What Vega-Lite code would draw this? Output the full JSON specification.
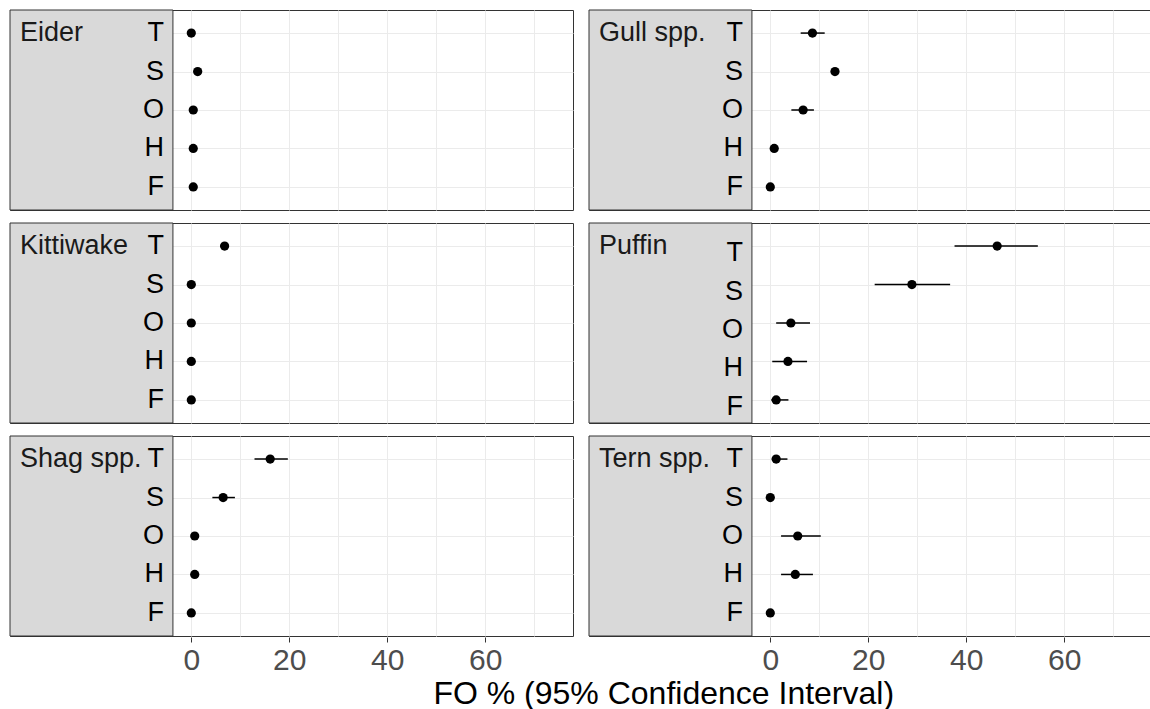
{
  "$schema": "https://vega.github.io/schema/vega-lite/v6.json",
  "background": "white",
  "padding": {"left": 9, "top": 9, "right": 0, "bottom": 0},
  "data": {
    "values": [
      {"species": "Eider", "cat": "T", "fo": 0.0, "lo": 0.0, "hi": 0.3},
      {"species": "Eider", "cat": "S", "fo": 1.3, "lo": 0.6, "hi": 2.1},
      {"species": "Eider", "cat": "O", "fo": 0.4, "lo": 0.0, "hi": 1.1},
      {"species": "Eider", "cat": "H", "fo": 0.4, "lo": 0.0, "hi": 1.1},
      {"species": "Eider", "cat": "F", "fo": 0.4, "lo": 0.0, "hi": 1.1},
      {"species": "Gull spp.", "cat": "T", "fo": 8.6, "lo": 6.2, "hi": 11.1},
      {"species": "Gull spp.", "cat": "S", "fo": 13.2, "lo": 12.4, "hi": 14.0},
      {"species": "Gull spp.", "cat": "O", "fo": 6.7, "lo": 4.3, "hi": 8.9},
      {"species": "Gull spp.", "cat": "H", "fo": 0.8, "lo": 0.1, "hi": 1.5},
      {"species": "Gull spp.", "cat": "F", "fo": 0.0, "lo": 0.0, "hi": 0.4},
      {"species": "Kittiwake", "cat": "T", "fo": 6.8, "lo": 5.9, "hi": 7.7},
      {"species": "Kittiwake", "cat": "S", "fo": 0.0, "lo": 0.0, "hi": 0.0},
      {"species": "Kittiwake", "cat": "O", "fo": 0.0, "lo": 0.0, "hi": 0.0},
      {"species": "Kittiwake", "cat": "H", "fo": 0.0, "lo": 0.0, "hi": 0.0},
      {"species": "Kittiwake", "cat": "F", "fo": 0.0, "lo": 0.0, "hi": 0.0},
      {"species": "Puffin", "cat": "T", "fo": 46.3, "lo": 37.6, "hi": 54.6},
      {"species": "Puffin", "cat": "S", "fo": 28.9, "lo": 21.3, "hi": 36.7},
      {"species": "Puffin", "cat": "O", "fo": 4.2, "lo": 1.2, "hi": 8.1},
      {"species": "Puffin", "cat": "H", "fo": 3.6, "lo": 0.4, "hi": 7.5},
      {"species": "Puffin", "cat": "F", "fo": 1.2, "lo": 0.2, "hi": 3.7},
      {"species": "Shag spp.", "cat": "T", "fo": 16.1, "lo": 12.9, "hi": 19.7},
      {"species": "Shag spp.", "cat": "S", "fo": 6.5, "lo": 4.3, "hi": 8.9},
      {"species": "Shag spp.", "cat": "O", "fo": 0.7, "lo": 0.1, "hi": 1.4},
      {"species": "Shag spp.", "cat": "H", "fo": 0.7, "lo": 0.1, "hi": 1.4},
      {"species": "Shag spp.", "cat": "F", "fo": 0.0, "lo": 0.0, "hi": 0.3},
      {"species": "Tern spp.", "cat": "T", "fo": 1.2, "lo": 0.3, "hi": 3.5},
      {"species": "Tern spp.", "cat": "S", "fo": 0.0, "lo": 0.0, "hi": 0.0},
      {"species": "Tern spp.", "cat": "O", "fo": 5.6, "lo": 2.2, "hi": 10.3},
      {"species": "Tern spp.", "cat": "H", "fo": 5.1, "lo": 2.2, "hi": 8.7},
      {"species": "Tern spp.", "cat": "F", "fo": 0.0, "lo": 0.0, "hi": 0.0}
    ]
  },
  "title": {
    "text": "FO % (95% Confidence Interval)",
    "orient": "bottom",
    "anchor": "middle",
    "fontSize": 32,
    "fontWeight": "normal",
    "font": "Liberation Sans",
    "color": "black",
    "offset": 4,
    "dx": 83
  },
  "facet": {"field": "species", "type": "nominal", "title": null, "header": {"labels": false, "labelFontSize": 0, "labelPadding": 0, "labelExpr": "''", "title": null}},
  "columns": 2,
  "spacing": {"column": 14, "row": 11},
  "spec": {
    "width": 563,
    "height": 200,
    "encoding": {
      "x": {
        "type": "quantitative",
        "scale": {"domain": [-37, 77.9], "nice": false, "zero": false},
        "axis": {
          "title": null,
          "values": [0, 10, 20, 30, 40, 50, 60, 70],
          "labelExpr": "datum.value % 20 === 0 ? datum.label : ''",
          "grid": true,
          "gridColor": "#ebebeb",
          "gridWidth": 1,
          "domain": false,
          "tickSize": 5,
          "tickColor": "#333333",
          "tickOpacity": {"condition": {"test": "datum.value % 20 === 0", "value": 1}, "value": 0},
          "labelFontSize": 30,
          "labelFont": "Liberation Sans",
          "labelColor": "#4d4d4d",
          "labelPadding": 3
        }
      },
      "y": {
        "field": "cat",
        "type": "nominal",
        "scale": {"type": "point", "domain": ["T", "S", "O", "H", "F"], "padding": 0.6},
        "axis": {"title": null, "labels": false, "ticks": false, "domain": false, "grid": true, "gridColor": "#ebebeb", "gridWidth": 1}
      }
    },
    "layer": [
      {
        "transform": [{"filter": "datum.cat === 'T'"}],
        "mark": {"type": "rect", "fill": "#d9d9d9", "stroke": "#333333", "strokeWidth": 1},
        "encoding": {
          "x": {"datum": -37, "type": "quantitative"},
          "x2": {"datum": -3.75},
          "y": null
        }
      },
      {
        "mark": {"type": "rule", "color": "black", "strokeWidth": 1.5},
        "encoding": {
          "x": {"field": "lo", "type": "quantitative"},
          "x2": {"field": "hi"}
        }
      },
      {
        "mark": {"type": "point", "filled": true, "color": "black", "opacity": 1, "size": 85},
        "encoding": {
          "x": {"field": "fo", "type": "quantitative"}
        }
      },
      {
        "mark": {"type": "text", "align": "right", "baseline": "middle", "dx": -9, "dy": {"expr": "datum.species === 'Puffin' ? 7 : 0"}, "fontSize": 27, "font": "Liberation Sans", "color": "black"},
        "encoding": {
          "x": {"datum": -3.75, "type": "quantitative"},
          "text": {"field": "cat", "type": "nominal"}
        }
      },
      {
        "transform": [{"filter": "datum.cat === 'T'"}],
        "mark": {"type": "text", "align": "left", "baseline": "middle", "dx": 10, "fontSize": 27, "font": "Liberation Sans", "color": "#1a1a1a"},
        "encoding": {
          "x": {"datum": -37, "type": "quantitative"},
          "text": {"field": "species", "type": "nominal"}
        }
      }
    ]
  },
  "config": {
    "view": {"stroke": "#333333", "strokeWidth": 1},
    "font": "Liberation Sans",
    "header": {"labels": false, "title": null},
    "headerFacet": {"labels": false, "labelFontSize": 0, "labelPadding": 0}
  }
}
